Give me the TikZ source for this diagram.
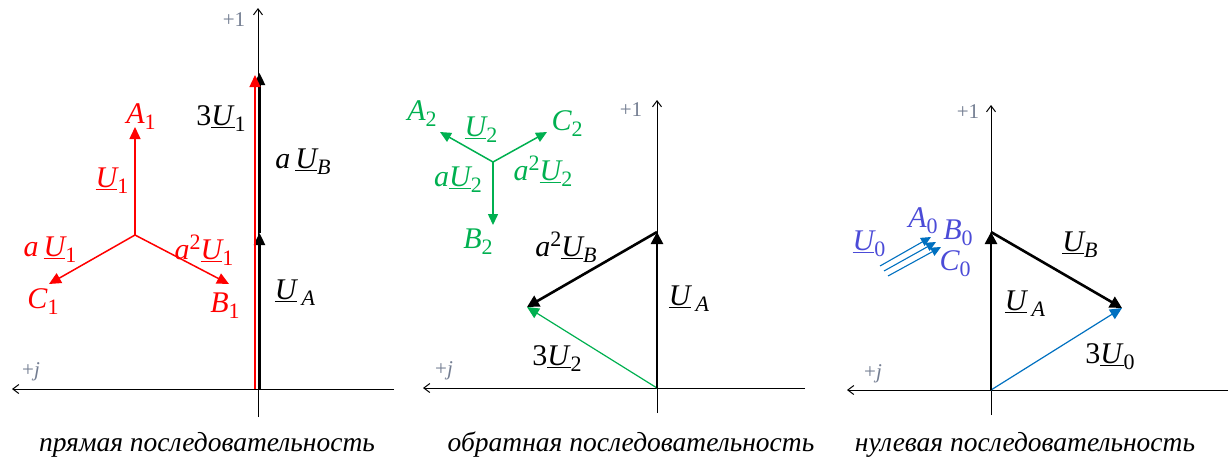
\documentclass[tikz,border=0pt]{standalone}
\usepackage{fontspec}
\setmainfont{Liberation Serif}
\usetikzlibrary{arrows.meta}
\definecolor{vred}{RGB}{255,0,0}
\definecolor{vgreen}{RGB}{0,176,80}
\definecolor{vblue}{RGB}{0,112,192}
\definecolor{lblue}{RGB}{75,75,215}
\definecolor{axgray}{RGB}{115,125,145}
\newcommand\sbs[1]{\raisebox{-6pt}{\fontsize{22}{22}\selectfont #1}}
\newcommand\sps[1]{\raisebox{10pt}{\fontsize{22}{22}\selectfont #1}}
\newcommand\uU{\underline{\textit{U}}}
\tikzset{
  lab/.style={inner sep=0pt, font=\fontsize{30}{32}\selectfont\itshape},
  axlab/.style={inner sep=0pt, text=axgray, font=\fontsize{21}{22}\selectfont},
  captext/.style={inner sep=0pt, font=\fontsize{27.5}{30}\selectfont\itshape},
  axis/.style={line width=1pt, -{Straight Barb[length=6pt,width=9pt]}},
  bvec/.style={line width=2.6pt, black, -{Triangle[length=12pt,width=12pt]}},
  cvec/.style={line width=1.5pt, -{Triangle[length=12pt,width=11pt]}},
  svec/.style={line width=1.5pt, -{Triangle[length=11pt,width=10pt]}},
}
\begin{document}
\begin{tikzpicture}[x=1pt,y=-1pt]
\useasboundingbox (0,0) rectangle (1232,459);

% ---------------- panel 1 ----------------
\coordinate (o1) at (258,389);
\coordinate (h1l) at (12,389);
\coordinate (h1r) at (394,389);
\coordinate (v1b) at (258,417);
\coordinate (v1t) at (258,8);
\draw[axis] (h1r) -- (h1l);
\draw[axis] (v1b) -- (v1t);
\node[axlab] (p1) at (234,20) {+1};
\node[axlab] (j1) at (31,372) {+\textit{j}};

\coordinate (b1s) at (259.5,389);
\coordinate (b1m) at (259.5,233);
\coordinate (b1t) at (259.5,73);
\coordinate (r1s) at (255,389);
\coordinate (r1t) at (255,75);
\draw[line width=2.4pt, black, -{Triangle[length=12pt,width=11pt]}] (b1s) -- (b1m);
\draw[line width=2.4pt, black, -{Triangle[length=12pt,width=11pt]}] (b1m) -- (b1t);
\draw[cvec, vred, line width=1.4pt] (r1s) -- (r1t);

\coordinate (s1) at (135,235);
\coordinate (sA1) at (135,127);
\coordinate (sB1) at (229,284);
\coordinate (sC1) at (49,284);
\draw[cvec, vred] (s1) -- (sA1);
\draw[cvec, vred] (s1) -- (sB1);
\draw[cvec, vred] (s1) -- (sC1);

\node[lab, text=vred] (lA1) at (141,117) {A\sbs{\upshape 1}};
\node[lab, text=vred] (lU1) at (112,181) {\uU\sbs{\upshape 1}};
\node[lab, text=vred] (laU1) at (50,250) {a\,\uU\sbs{\upshape 1}};
\node[lab, text=vred] (la2U1) at (204,250) {a\sps{\upshape 2}\uU\sbs{\upshape 1}};
\node[lab, text=vred] (lC1) at (43,302) {C\sbs{\upshape 1}};
\node[lab, text=vred] (lB1) at (225,306) {B\sbs{\upshape 1}};
\node[lab] (l3U1) at (221,119) {\upshape 3\uU\sbs{\upshape 1}};
\node[lab] (laUB) at (303,162) {a\,\uU\sbs{B}};
\node[lab] (lUA1) at (295,293) {\uU\,\sbs{A}};
\node[captext] (c1) at (207,445) {прямая последовательность};

% ---------------- panel 2 ----------------
\coordinate (o2) at (657,388);
\coordinate (h2l) at (423,388);
\coordinate (h2r) at (805,388);
\coordinate (v2b) at (657,413);
\coordinate (v2t) at (657,100);
\draw[axis] (h2r) -- (h2l);
\draw[axis] (v2b) -- (v2t);
\node[axlab] (p2) at (631,110) {+1};
\node[axlab] (j2) at (444,371) {+\textit{j}};

\coordinate (t2a) at (657,232);
\coordinate (t2b) at (527,307);
\draw[cvec, vgreen, line width=1.2pt] (o2) -- (t2b);
\draw[bvec] (o2) -- (t2a);
\draw[bvec] (t2a) -- (t2b);

\coordinate (s2) at (493,162);
\coordinate (sA2) at (440,132);
\coordinate (sC2) at (547,132);
\coordinate (sB2) at (493,225);
\draw[svec, vgreen] (s2) -- (sA2);
\draw[svec, vgreen] (s2) -- (sC2);
\draw[svec, vgreen] (s2) -- (sB2);

\node[lab, text=vgreen] (lA2) at (422,114) {A\sbs{\upshape 2}};
\node[lab, text=vgreen] (lU2) at (481,130) {\uU\sbs{\upshape 2}};
\node[lab, text=vgreen] (lC2) at (567,124) {C\sbs{\upshape 2}};
\node[lab, text=vgreen] (la2U2) at (543,171) {a\sps{\upshape 2}\uU\sbs{\upshape 2}};
\node[lab, text=vgreen] (laU2) at (458,180) {a\uU\sbs{\upshape 2}};
\node[lab, text=vgreen] (lB2) at (478,242) {B\sbs{\upshape 2}};
\node[lab] (la2UB) at (566,247) {a\sps{\upshape 2}\uU\sbs{B}};
\node[lab] (lUA2) at (689,299) {\uU\,\sbs{A}};
\node[lab] (l3U2) at (557,359) {\upshape 3\uU\sbs{\upshape 2}};
\node[captext] (c2) at (631,445) {обратная последовательность};

% ---------------- panel 3 ----------------
\coordinate (o3) at (991,390);
\coordinate (h3l) at (847,390);
\coordinate (h3r) at (1228,390);
\coordinate (v3b) at (991,415);
\coordinate (v3t) at (991,105);
\draw[axis] (h3r) -- (h3l);
\draw[axis] (v3b) -- (v3t);
\node[axlab] (p3) at (968,112) {+1};
\node[axlab] (j3) at (873,374) {+\textit{j}};

\coordinate (t3a) at (991,232);
\coordinate (t3b) at (1122,308);
\draw[cvec, vblue, line width=1.2pt] (o3) -- (t3b);
\draw[bvec] (o3) -- (t3a);
\draw[bvec] (t3a) -- (t3b);

\coordinate (z1s) at (880,266);
\coordinate (z1t) at (931,237);
\coordinate (z2s) at (884,271);
\coordinate (z2t) at (936,242);
\coordinate (z3s) at (888,276);
\coordinate (z3t) at (941,247);
\draw[vblue, line width=1.1pt, -{Triangle[length=10pt,width=9pt]}] (z1s) -- (z1t);
\draw[vblue, line width=1.1pt, -{Triangle[length=10pt,width=9pt]}] (z2s) -- (z2t);
\draw[vblue, line width=1.1pt, -{Triangle[length=10pt,width=9pt]}] (z3s) -- (z3t);

\node[lab, text=lblue] (lU0) at (869,244) {\uU\sbs{\upshape 0}};
\node[lab, text=lblue] (lA0) at (923,221) {A\sbs{\upshape 0}};
\node[lab, text=lblue] (lB0) at (958,233) {B\sbs{\upshape 0}};
\node[lab, text=lblue] (lC0) at (955,264) {C\sbs{\upshape 0}};
\node[lab] (lUB3) at (1080,245) {\uU\sbs{B}};
\node[lab] (lUA3) at (1025,304) {\uU\,\sbs{A}};
\node[lab] (l3U0) at (1110,357) {\upshape 3\uU\sbs{\upshape 0}};
\node[captext] (c3) at (1025,445) {нулевая последовательность};
\end{tikzpicture}
\end{document}
